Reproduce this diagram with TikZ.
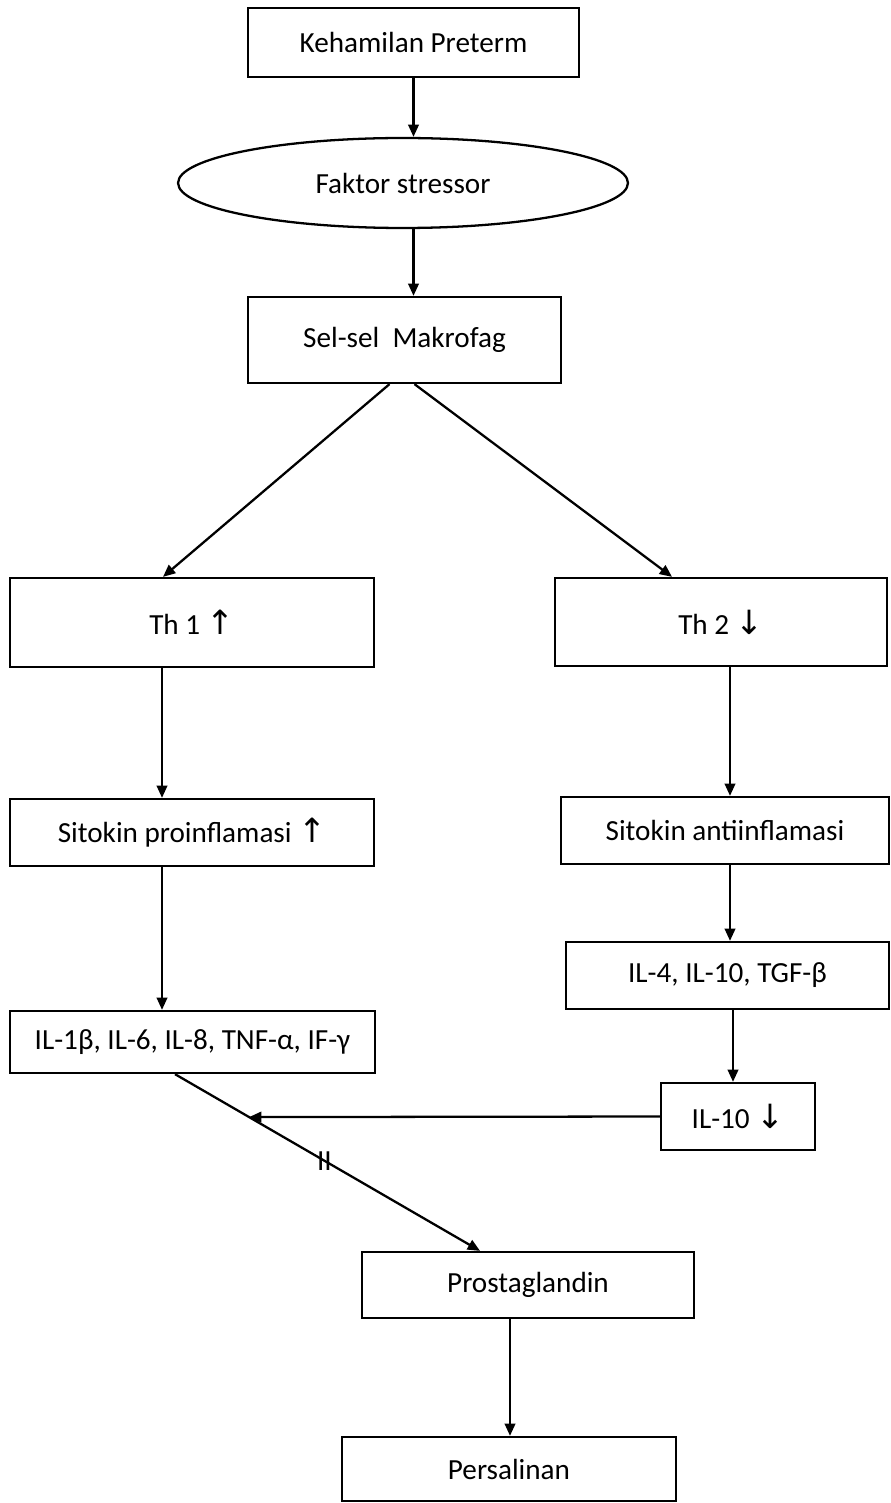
\documentclass[tikz,border=0pt]{standalone}
\usepackage{fontspec}
\setmainfont{Carlito}
\newfontfamily\arrowfont{DejaVu Sans}
\usetikzlibrary{shapes.geometric,arrows.meta,calc}
\newcommand{\uparr}{{\arrowfont\fontsize{19}{19}\selectfont ↑}}
\newcommand{\downarr}{{\arrowfont\fontsize{19}{19}\selectfont ↓}}
\begin{document}
\begin{tikzpicture}[
    x=0.02cm, y=-0.02cm,
    box/.style={rectangle, draw, line width=1.3pt, inner sep=0pt, font=\fontsize{16.6}{19}\selectfont, align=center},
    oval/.style={ellipse, draw, line width=1.3pt, inner sep=0pt, font=\fontsize{16.6}{19}\selectfont},
    flow/.style={line width=1.3pt, -{Triangle[length=7pt,width=6pt]}},
    cutmark/.style={font=\fontsize{16.6}{19}\selectfont, inner sep=0pt},
]
\useasboundingbox (0,0) rectangle (891,1503);

% top chain
\node[box, minimum width=6.62cm, minimum height=1.38cm] (hamil) at (413.5, 42.5) {Kehamilan Preterm};
\node[oval, minimum width=9cm, minimum height=1.8cm] (stres) at (403, 183) {Faktor stressor};
\node[box, minimum width=6.26cm, minimum height=1.72cm] (makro) at (404.5, 340) {Sel-sel~~Makrofag};

% left branch
\node[box, minimum width=7.28cm, minimum height=1.78cm] (th1) at (192, 622.5) {Th 1 \uparr};
\node[box, minimum width=7.28cm, minimum height=1.34cm] (pro) at (192, 832.5) {Sitokin proinflamasi \uparr};
\node[box, minimum width=7.3cm, minimum height=1.24cm] (ilpro) at (192.5, 1042) {IL-1β, IL-6, IL-8, TNF-α, IF-γ};

% right branch
\node[box, minimum width=6.64cm, minimum height=1.76cm] (th2) at (721, 622) {Th 2 \downarr};
\node[box, minimum width=6.56cm, minimum height=1.34cm] (anti) at (725, 830.5) {Sitokin antiinflamasi};
\node[box, minimum width=6.46cm, minimum height=1.34cm] (ilanti) at (727.5, 975.5) {IL-4, IL-10, TGF-β};
\node[box, minimum width=3.08cm, minimum height=1.34cm] (ilten) at (738, 1116.5) {IL-10 \downarr};

% bottom chain
\node[box, minimum width=6.64cm, minimum height=1.32cm] (prost) at (528, 1285) {Prostaglandin};
\node[box, minimum width=6.68cm, minimum height=1.28cm] (salin) at (509, 1469) {Persalinan};

% arrows
\draw[flow] (hamil.south) -- (hamil.south |- stres.north);
\draw[flow] (hamil.south |- stres.south) -- (hamil.south |- makro.north);
\draw[flow] ([xshift=-0.3cm]makro.south) -- ([xshift=-0.58cm]th1.north);
\draw[flow] ([xshift=0.2cm]makro.south) -- ([xshift=-0.98cm]th2.north);
\draw[flow] ([xshift=-0.6cm]th1.south) -- ([xshift=-0.6cm]pro.north);
\draw[flow] ([xshift=-0.6cm]pro.south) -- ([xshift=-0.6cm]pro.south |- ilpro.north);
\draw[flow] ([xshift=0.18cm]th2.south) -- ([xshift=0.18cm]th2.south |- anti.north);
\draw[flow] ([xshift=0.1cm]anti.south) -- ([xshift=0.1cm]anti.south |- ilanti.north);
\draw[flow] ([xshift=0.11cm]ilanti.south) -- ([xshift=0.11cm]ilanti.south |- ilten.north);

\coordinate (from) at ([xshift=-0.35cm]ilpro.south);
\coordinate (to) at ([xshift=-0.96cm]prost.north);
\coordinate (join) at ($(from)!0.243!(to)$);
\draw[flow] (from) -- node[cutmark, pos=0.49] (cut) {II} (to);
\draw[flow] (ilten.west) -- (join);

\draw[flow] ([xshift=-0.36cm]prost.south) -- ([xshift=-0.36cm]prost.south |- salin.north);

\end{tikzpicture}
\end{document}
